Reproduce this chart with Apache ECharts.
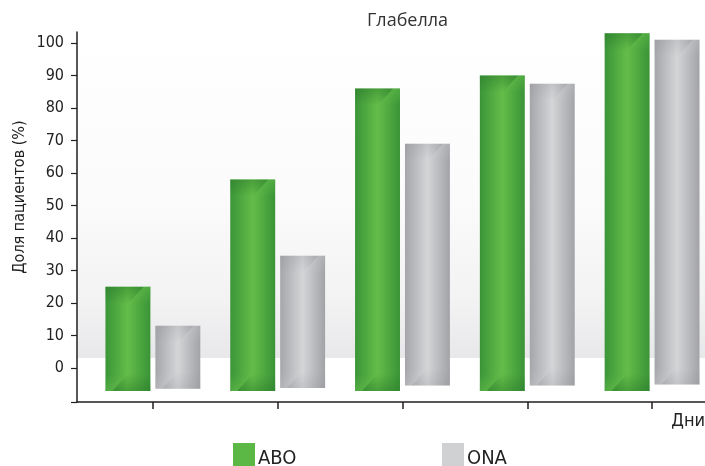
<!DOCTYPE html>
<html>
<head>
<meta charset="utf-8">
<script src="https://cdn.jsdelivr.net/npm/echarts@6/dist/echarts.min.js"></script>
<style>
  html, body { margin: 0; padding: 0; background: #ffffff; }
  #chart { width: 705px; height: 466px; }
</style>
</head>
<body>
<div id="chart"></div>
<script>
// Share of patients per visit day, Glabella
const days = [1, 2, 3, 4, 5];
const aboTop = [25, 58, 86, 90, 103];
const aboBase = [-7.1, -7.1, -7.1, -7.1, -7.1];
const onaTop = [13, 34.5, 69, 87.5, 101];
const onaBase = [-6.4, -6.2, -5.4, -5.4, -5.1];
const yTickLabels = [0, 10, 20, 30, 40, 50, 60, 70, 80, 90, 100];

const Y_MIN = -10.5;
const Y_MAX = 103.4;
const X_MIN = 0.392;
const X_MAX = 5.424;
const NARROW = "'DejaVu Sans Condensed', 'DejaVu Sans', sans-serif";
const STRETCH = 'condensed';
const LG = echarts.graphic.LinearGradient;

const palettes = {
  green: {
    legend: '#5cb845',
    body: [[0, '#3b9538'], [0.5, '#64bd49'], [1, '#3a9437']],
    dark: 'rgba(40,120,40,', light: 'rgba(105,195,78,'
  },
  gray: {
    legend: '#d0d1d3',
    body: [[0, '#a5a6aa'], [0.5, '#d4d5d7'], [1, '#a2a3a7']],
    dark: 'rgba(140,141,146,', light: 'rgba(215,216,218,'
  }
};

function stops(list) { return list.map(s => ({ offset: s[0], color: s[1] })); }
function fade(base, alpha, reverse) {
  return new LG(0, reverse ? 1 : 0, 0, reverse ? 0 : 1,
    [{ offset: 0, color: base + alpha + ')' }, { offset: 1, color: base + '0)' }]);
}

// Glossy bar with bevelled highlights at the top and bottom
function makeRender(pal, side, strength) {
  return function (params, api) {
    const day = api.value(0);
    const lo = api.value(1);
    const hi = api.value(2);
    const band = api.size([1, 0])[0];
    const w = band * 0.36;
    const pTop = api.coord([day, hi]);
    const pBot = api.coord([day, lo]);
    const x = pTop[0] + side * band * 0.2 - w / 2;
    const y = pTop[1];
    const yb = pBot[1];
    const h = yb - y;
    const k = w * 0.38;
    const a = 0.45 * strength;
    return {
      type: 'group',
      children: [
        { type: 'rect', shape: { x: x, y: y, width: w, height: h },
          style: { fill: new LG(0, 0, 1, 0, stops(pal.body)) } },
        { type: 'polygon', shape: { points: [[x, y], [x + w * 0.85, y], [x + w * 0.5, y + k], [x, y + k]] },
          style: { fill: fade(pal.dark, a, false) } },
        { type: 'polygon', shape: { points: [[x + w * 0.85, y], [x + w, y], [x + w, y + k], [x + w * 0.5, y + k]] },
          style: { fill: fade(pal.light, a, false) } },
        { type: 'polygon', shape: { points: [[x + w, yb], [x + w * 0.15, yb], [x + w * 0.5, yb - k], [x + w, yb - k]] },
          style: { fill: fade(pal.dark, a, true) } },
        { type: 'polygon', shape: { points: [[x, yb], [x + w * 0.15, yb], [x + w * 0.5, yb - k], [x, yb - k]] },
          style: { fill: fade(pal.light, a, true) } }
      ]
    };
  };
}

const aboData = days.map((d, i) => [d, aboBase[i], aboTop[i]]);
const onaData = days.map((d, i) => [d, onaBase[i], onaTop[i]]);

const axisColor = '#231f20';
const legendText = { fontSize: 20, color: '#222222', fontFamily: NARROW, fontStyle: STRETCH, padding: [0, 0, 0, -2] };

const option = {
  animation: false,
  backgroundColor: '#ffffff',
  title: {
    text: 'Глабелла', left: 367, top: 12, padding: 0,
    textStyle: { fontSize: 18, fontWeight: 'normal', color: '#333333', fontFamily: "'Open Sans', sans-serif" }
  },
  legend: [
    { left: 233, top: 443, padding: 0, itemWidth: 22, itemHeight: 31, icon: 'rect',
      textStyle: legendText,
      data: [{ name: 'ABO', itemStyle: { color: palettes.green.legend } }] },
    { left: 442, top: 443, padding: 0, itemWidth: 22, itemHeight: 31, icon: 'rect',
      textStyle: legendText,
      data: [{ name: 'ONA', itemStyle: { color: palettes.gray.legend } }] }
  ],
  grid: {
    left: 77, right: 0, top: 32, bottom: 64, show: true, borderWidth: 0,
    backgroundColor: new LG(0, 0, 0, 1, [
      { offset: 0, color: '#ffffff' }, { offset: 0.45, color: '#fbfbfb' },
      { offset: 0.72, color: '#f3f3f4' }, { offset: 0.88, color: '#e8e8ea' },
      { offset: 0.88, color: '#ffffff' }, { offset: 1, color: '#ffffff' }])
  },
  xAxis: {
    type: 'value', min: X_MIN, max: X_MAX,
    axisLine: { show: true, onZero: false, lineStyle: { color: axisColor, width: 1.5 } },
    axisTick: { show: true, length: 7, customValues: days, lineStyle: { color: axisColor, width: 1.5 } },
    axisLabel: { show: false }, splitLine: { show: false }
  },
  yAxis: {
    type: 'value', min: Y_MIN, max: Y_MAX,
    axisLine: { show: true, onZero: false, lineStyle: { color: axisColor, width: 1.5 } },
    axisTick: { show: true, length: 6, customValues: [Y_MIN].concat(yTickLabels), lineStyle: { color: axisColor, width: 1.2 } },
    axisLabel: { customValues: yTickLabels, fontSize: 16, margin: 13, color: '#222222', fontFamily: NARROW, fontStyle: STRETCH },
    splitLine: { show: false }
  },
  graphic: [
    { type: 'text', x: 20, y: 197, rotation: Math.PI / 2,
      style: { text: 'Доля пациентов (%)', fontSize: 16, fontFamily: NARROW, fontStyle: STRETCH, fill: '#222222', align: 'center', verticalAlign: 'middle' } },
    { type: 'text', right: 0, top: 412,
      style: { text: 'Дни', fontSize: 18, fontFamily: NARROW, fontStyle: STRETCH, fill: '#222222' } }
  ],
  series: [
    { name: 'ABO', type: 'custom',
      itemStyle: { color: palettes.green.legend },
      encode: { x: 0, y: [1, 2] }, data: aboData, renderItem: makeRender(palettes.green, -1, 1) },
    { name: 'ONA', type: 'custom',
      itemStyle: { color: palettes.gray.legend },
      encode: { x: 0, y: [1, 2] }, data: onaData, renderItem: makeRender(palettes.gray, 1, 0.5) }
  ]
};

const chart = echarts.init(document.getElementById('chart'), null, { renderer: 'canvas' });
chart.setOption(option);
</script>
</body>
</html>
